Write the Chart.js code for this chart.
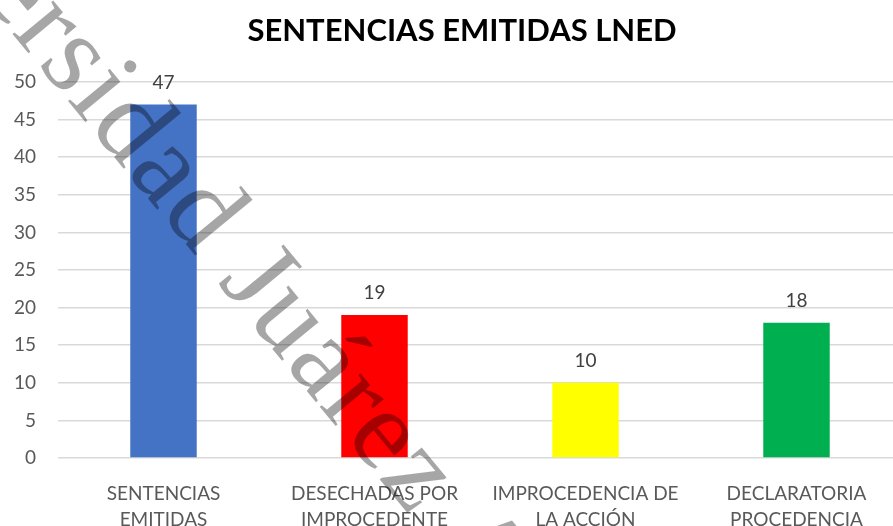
<!DOCTYPE html>
<html>
<head>
<meta charset="utf-8">
<script src="https://cdn.jsdelivr.net/npm/chart.js@4"></script>
<style>
  html, body { margin: 0; padding: 0; background: #fff; overflow: hidden; }
  #wrap { width: 924px; height: 526px; }
</style>
</head>
<body>
<div id="wrap"><canvas id="myChart" width="924" height="526"></canvas></div>
<script>
// chart data
const title = 'SENTENCIAS EMITIDAS LNED';
const categories = [
    ['SENTENCIAS', 'EMITIDAS'],
    ['DESECHADAS POR', 'IMPROCEDENTE'],
    ['IMPROCEDENCIA DE', 'LA ACCIÓN'],
    ['DECLARATORIA', 'PROCEDENCIA']
];
const values = [47, 19, 10, 18];
const barColors = ['#4472C4', '#FF0000', '#FFFF00', '#00B050'];
const yMin = 0;
const yMax = 50;
const yStep = 5;
const watermarkBefore = 'Universidad ';
const watermarkAfter = 'Juárez Autónoma de Tabasco';

const labelFont = 'Lato, "Open Sans", sans-serif';

// title, drawn centred on the picture as in the original
const chartTitle = {
    id: 'chartTitle',
    afterDraw(chart) {
        const ctx = chart.ctx;
        ctx.save();
        ctx.font = 'bold 31px ' + labelFont;
        ctx.fillStyle = '#000000';
        ctx.textAlign = 'center';
        ctx.textBaseline = 'alphabetic';
        ctx.fillText(title, 462, 41);
        ctx.restore();
    }
};

// numbers over the bars
const valueLabels = {
    id: 'valueLabels',
    afterDatasetsDraw(chart) {
        const ctx = chart.ctx;
        const meta = chart.getDatasetMeta(0);
        ctx.save();
        ctx.font = '19px ' + labelFont;
        ctx.fillStyle = '#404040';
        ctx.textAlign = 'center';
        ctx.textBaseline = 'alphabetic';
        meta.data.forEach((bar, i) => {
            ctx.fillText(String(values[i]), bar.x, bar.y - 16);
        });
        ctx.restore();
    }
};

// diagonal watermark text
const watermark = {
    id: 'watermark',
    afterDraw(chart) {
        const ctx = chart.ctx;
        ctx.save();
        ctx.translate(217, 282);
        ctx.rotate(50.5 * Math.PI / 180);
        ctx.font = '115px "Liberation Serif", "DejaVu Serif", serif';
        ctx.letterSpacing = '2px';
        ctx.fillStyle = 'rgba(0, 0, 0, 0.35)';
        ctx.textBaseline = 'alphabetic';
        ctx.textAlign = 'right';
        ctx.fillText(watermarkBefore, 0, 0);
        ctx.textAlign = 'left';
        ctx.fillText(watermarkAfter, 0, 0);
        ctx.restore();
    }
};

const ctx = document.getElementById('myChart').getContext('2d');
new Chart(ctx, {
    type: 'bar',
    data: {
        labels: categories,
        datasets: [{
            data: values,
            backgroundColor: barColors,
            borderWidth: 0,
            categoryPercentage: 1,
            barPercentage: 0.315
        }]
    },
    options: {
        responsive: false,
        animation: false,
        layout: { padding: { left: 0, right: 22, top: 82, bottom: 0 } },
        scales: {
            x: {
                grid: { display: false },
                border: { display: false },
                ticks: {
                    color: '#595959',
                    font: { family: labelFont, size: 19, lineHeight: 1.35 },
                    padding: 15,
                    maxRotation: 0,
                    autoSkip: false
                },
                afterFit: s => { s.height = 68; }
            },
            y: {
                min: yMin,
                max: yMax,
                grid: { color: '#d9d9d9', lineWidth: 1.5, drawTicks: false },
                border: { display: false },
                ticks: {
                    stepSize: yStep,
                    color: '#595959',
                    font: { family: labelFont, size: 19 },
                    padding: 22
                },
                afterFit: s => { s.width = 58; }
            }
        },
        plugins: {
            legend: { display: false },
            tooltip: { enabled: false },
            title: { display: false }
        }
    },
    plugins: [valueLabels, chartTitle, watermark]
});
</script>
</body>
</html>
